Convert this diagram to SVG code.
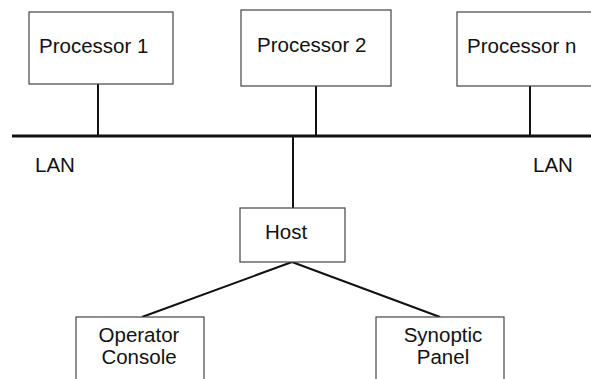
<svg xmlns="http://www.w3.org/2000/svg" width="591" height="379" viewBox="0 0 591 379">
<style>
.box{fill:#fff;stroke:#444;stroke-width:1.2}
.t{font-family:"Liberation Sans",Arial,sans-serif;font-size:20.5px;fill:#111}
.c{stroke:#111;stroke-width:2;fill:none}
.lan{stroke:#111;stroke-width:3.2;fill:none}
</style>
<rect width="591" height="379" fill="#fff"/>
<g id="connectors">
<line class="lan" x1="12" y1="136" x2="591" y2="136"/>
<line class="c" x1="98" y1="84" x2="98" y2="136"/>
<line class="c" x1="316" y1="86" x2="316" y2="136"/>
<line class="c" x1="530" y1="86" x2="530" y2="136"/>
<line class="c" x1="293" y1="136" x2="293" y2="208"/>
<line class="c" stroke-width="1.5" x1="292" y1="262" x2="142" y2="317"/>
<line class="c" stroke-width="1.5" x1="292" y1="262" x2="440" y2="317"/>
</g>
<g id="processor1">
<rect class="box" x="29" y="12" width="144" height="72"/>
<text class="t" x="39" y="53">Processor 1</text>
</g>
<g id="processor2">
<rect class="box" x="241" y="10" width="150" height="76"/>
<text class="t" x="257" y="52">Processor 2</text>
</g>
<g id="processorn">
<rect class="box" x="457" y="12" width="140" height="74"/>
<text class="t" x="467" y="53">Processor n</text>
</g>
<g id="lan-left"><text class="t" x="35" y="172">LAN</text></g>
<g id="lan-right"><text class="t" x="533" y="172">LAN</text></g>
<g id="host">
<rect class="box" x="240" y="208" width="105" height="54"/>
<text class="t" x="265" y="239">Host</text>
</g>
<g id="operator">
<rect class="box" x="76" y="317" width="128" height="70"/>
<text class="t" x="139" y="342" text-anchor="middle">Operator</text>
<text class="t" x="139" y="364" text-anchor="middle">Console</text>
</g>
<g id="synoptic">
<rect class="box" x="376" y="317" width="128" height="70"/>
<text class="t" x="443" y="342" text-anchor="middle">Synoptic</text>
<text class="t" x="443" y="364" text-anchor="middle">Panel</text>
</g>
</svg>
